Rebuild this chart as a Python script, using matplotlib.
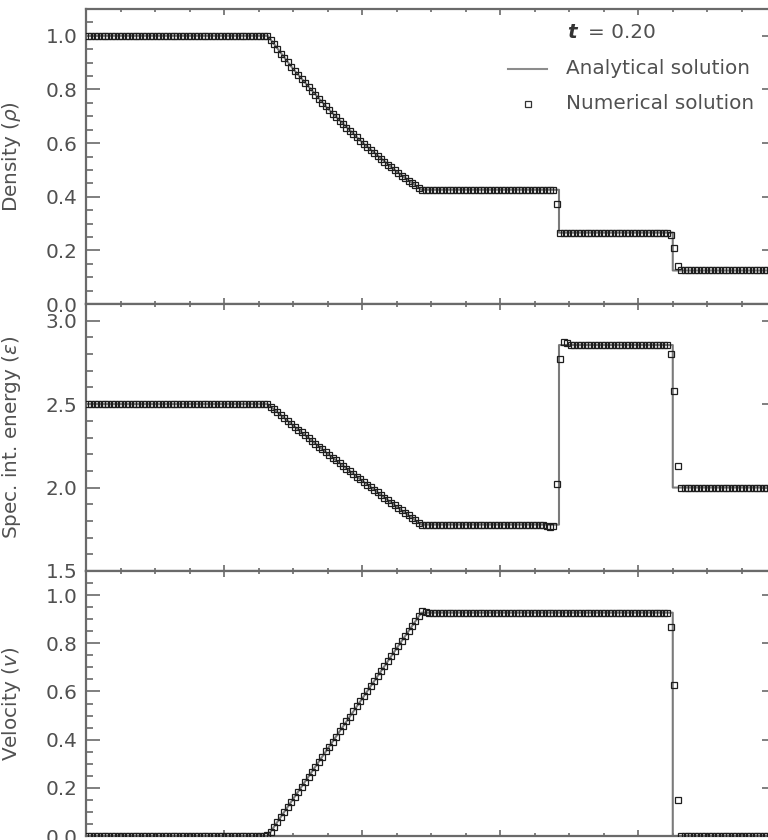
import matplotlib.pyplot as plt
from matplotlib.ticker import MultipleLocator, FormatStrFormatter
import numpy as np

plt.rcParams['font.family'] = ['DejaVu Sans']
plt.rcParams['mathtext.fontset'] = 'dejavusans'

# analytical solution, read at its corners and along the rarefaction
x_line = [0.0, 0.2634, 0.30, 0.35, 0.40, 0.45, 0.486, 0.6855, 0.6855, 0.8504, 0.8504, 1.0]
rho_line = [1.0, 1.0, 0.877, 0.730, 0.603, 0.494, 0.426, 0.426, 0.266, 0.266, 0.125, 0.125]
eps_line = [2.5, 2.5, 2.373, 2.204, 2.042, 1.886, 1.778, 1.778, 2.854, 2.854, 2.0, 2.0]
vel_line = [0.0, 0.0, 0.153, 0.361, 0.569, 0.778, 0.927, 0.927, 0.927, 0.927, 0.0, 0.0]

# numerical solution, 200 cells
n_cells = 200
x_cells = (np.arange(n_cells) + 0.5) / n_cells

rho_rare = [0.986, 0.968, 0.951, 0.934, 0.918, 0.902, 0.885, 0.870, 0.854, 0.839,
            0.823, 0.808, 0.794, 0.779, 0.765, 0.751, 0.737, 0.723, 0.710, 0.696,
            0.683, 0.670, 0.658, 0.645, 0.633, 0.621, 0.609, 0.597, 0.586, 0.574,
            0.563, 0.552, 0.541, 0.530, 0.520, 0.509, 0.499, 0.489, 0.479, 0.470,
            0.460, 0.451, 0.442, 0.432]
eps_rare = [2.485, 2.468, 2.450, 2.433, 2.416, 2.398, 2.381, 2.364, 2.347, 2.330,
            2.313, 2.296, 2.279, 2.262, 2.246, 2.229, 2.212, 2.196, 2.179, 2.163,
            2.147, 2.130, 2.114, 2.098, 2.082, 2.066, 2.050, 2.034, 2.018, 2.002,
            1.987, 1.971, 1.955, 1.940, 1.924, 1.909, 1.894, 1.878, 1.863, 1.848,
            1.833, 1.818, 1.803, 1.788]
vel_rare = [0.017, 0.038, 0.059, 0.080, 0.101, 0.122, 0.142, 0.163, 0.184, 0.205,
            0.226, 0.246, 0.267, 0.288, 0.309, 0.330, 0.351, 0.371, 0.392, 0.413,
            0.434, 0.455, 0.476, 0.496, 0.517, 0.538, 0.559, 0.580, 0.601, 0.621,
            0.642, 0.663, 0.684, 0.705, 0.726, 0.746, 0.767, 0.788, 0.809, 0.830,
            0.851, 0.871, 0.892, 0.913]

rho_num = ([1.0] * 53 + rho_rare + [0.426] * 39 + [0.372] + [0.266] * 32
           + [0.258, 0.208, 0.141] + [0.125] * 28)
eps_num = ([2.5] * 53 + eps_rare + [1.778] * 36 + [1.770, 1.765, 1.768] + [2.02]
           + [2.77, 2.875, 2.865] + [2.854] * 29 + [2.80, 2.58, 2.13] + [2.0] * 28)
vel_num = ([0.0] * 52 + [0.003] + vel_rare + [0.936, 0.930] + [0.927] * 70
           + [0.867, 0.625, 0.15] + [0.0] * 28)

spine_c = '#6a6a6a'
text_c = '#505050'
fs = 14.4

fig = plt.figure(figsize=(7.68, 8.40), dpi=100)
left = 86 / 768
width = 690 / 768
ax1 = fig.add_axes([left, 536 / 840, width, 295 / 840])
ax2 = fig.add_axes([left, 269 / 840, width, 267 / 840])
ax3 = fig.add_axes([left, 4 / 840, width, 265 / 840])


def style(ax, ylim, major, minor, label):
    ax.set_xlim(0, 1)
    ax.set_ylim(ylim)
    ax.xaxis.set_major_locator(MultipleLocator(0.2))
    ax.xaxis.set_minor_locator(MultipleLocator(0.05))
    ax.yaxis.set_major_locator(MultipleLocator(major))
    ax.yaxis.set_minor_locator(MultipleLocator(minor))
    ax.yaxis.set_major_formatter(FormatStrFormatter('%.1f'))
    ax.tick_params(which='both', direction='in', top=True, right=True,
                   color=spine_c, labelcolor=text_c, labelsize=fs, width=1.2)
    ax.tick_params(axis='y', which='major', length=10, pad=6)
    ax.tick_params(axis='y', which='minor', length=5)
    ax.tick_params(axis='x', which='major', length=4.5)
    ax.tick_params(axis='x', which='minor', length=2.2)
    ax.tick_params(axis='x', labelbottom=False)
    for s in ax.spines.values():
        s.set_color(spine_c)
        s.set_linewidth(1.6)
    ax.set_ylabel(label, fontsize=fs, color=text_c)
    ax.yaxis.set_label_coords(-0.091, 0.5)


panels = [(ax1, rho_line, rho_num, (0, 1.1), 0.2, 0.05, r'Density ($\rho$)'),
          (ax2, eps_line, eps_num, (1.5, 3.1), 0.5, 0.1, r'Spec. int. energy ($\epsilon$)'),
          (ax3, vel_line, vel_num, (0, 1.1), 0.2, 0.05, r'Velocity ($v$)')]

for ax, yl, yn, ylim, major, minor, label in panels:
    ax.plot(x_line, yl, color='#7a7a7a', lw=1.5, zorder=2)
    ax.plot(x_cells, yn, ls='none', marker='s', ms=4.6, mfc='none',
            mec='#1e1e1e', mew=0.9, zorder=3)
    style(ax, ylim, major, minor, label)

# legend drawn by hand
ax1.text(0.697, 0.919, 't', transform=ax1.transAxes, fontsize=fs,
         fontstyle='italic', fontweight='bold', color='#333333', va='center')
ax1.text(0.728, 0.919, '= 0.20', transform=ax1.transAxes, fontsize=fs,
         color=text_c, va='center')
ax1.plot([0.612, 0.668], [0.797, 0.797], transform=ax1.transAxes,
         color='#8c8c8c', lw=1.5)
ax1.text(0.696, 0.797, 'Analytical solution', transform=ax1.transAxes,
         fontsize=fs, color=text_c, va='center')
ax1.plot([0.641], [0.678], transform=ax1.transAxes, ls='none', marker='s',
         ms=5, mfc='none', mec='#333333', mew=0.9)
ax1.text(0.696, 0.678, 'Numerical solution', transform=ax1.transAxes,
         fontsize=fs, color=text_c, va='center')

fig.savefig('out.png', dpi=100)
